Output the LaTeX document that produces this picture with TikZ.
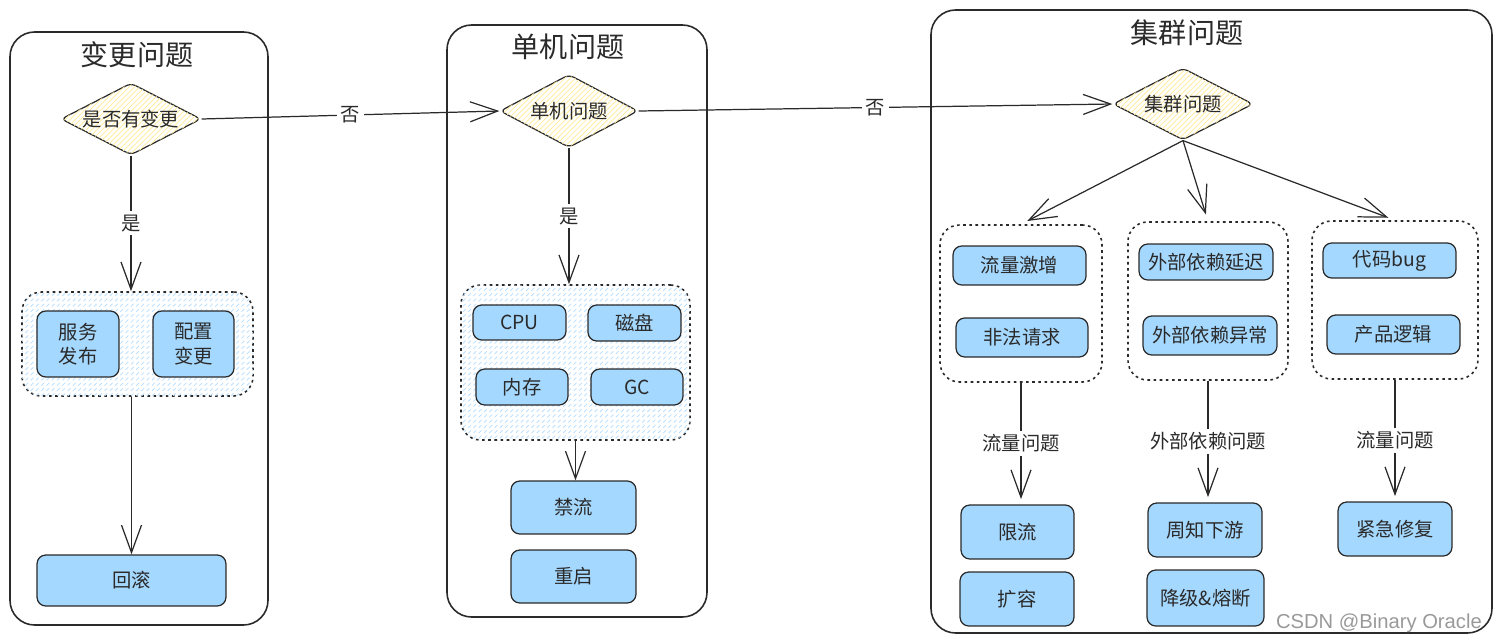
\documentclass[tikz,border=0pt]{standalone}
\usepackage{fontspec}
\newfontfamily\cjk{Noto Sans CJK SC}
\newfontfamily\wmfont{Liberation Sans}
\usetikzlibrary{%
  arrows.meta,%
  shapes.geometric,%
  patterns%
}
\definecolor{boxblue}{HTML}{A5D8FF}
\definecolor{hatchblue}{HTML}{B5DDFF}
\definecolor{hatchyellow}{HTML}{FFEC99}
\definecolor{ink}{HTML}{2A2A2A}
\tikzset{>={Straight Barb[length=5.5mm,width=4mm]},
  pane/.style={draw=ink, line width=0.9pt, rounded corners=14pt},
  title/.style={font=\cjk\fontsize{16}{18}\selectfont, text=ink},
  decision/.style={diamond, aspect=1.95, inner sep=0pt, draw=ink,
    line width=0.7pt, rounded corners=3pt, fill=white,
    postaction={pattern=north east lines, pattern color=hatchyellow},
    font=\cjk\fontsize{11}{13}\selectfont, text=ink},
  group/.style={draw=ink, line width=0.9pt, dash pattern=on 1.5pt off 2pt,
    rounded corners=11pt, inner sep=0pt},
  hatched/.style={postaction={pattern=north east lines, pattern color=hatchblue}},
  task/.style={draw=ink, line width=0.7pt, fill=boxblue, rounded corners=5pt,
    inner sep=0pt, align=center, font=\cjk\fontsize{11}{14}\selectfont, text=ink},
  flow/.style={->, draw=ink, line width=0.7pt},
  tag/.style={fill=white, inner sep=2pt, font=\cjk\fontsize{11}{13}\selectfont, text=ink}}
\begin{document}
\begin{tikzpicture}[x=0.02cm,y=-0.02cm]
  \useasboundingbox (0,0) rectangle (1502,643);
  \draw[pane] (10,32) rectangle (268,625);
  \draw[pane] (447,25) rectangle (707,617);
  \draw[pane] (931,10) rectangle (1492,633);
  \node[title] (tchange) at (137,55) {变更问题};
  \node[title] (tsingle) at (568,47) {单机问题};
  \node[title] (tcluster) at (1187,33) {集群问题};

  \node[decision, minimum width=2.8cm, minimum height=1.44cm] (qchange) at (131,119) {是否有变更};
  \node[decision, minimum width=2.76cm, minimum height=1.46cm] (qsingle) at (569,111) {单机问题};
  \node[decision, minimum width=2.8cm, minimum height=1.44cm] (qcluster) at (1183,104) {集群问题};

  \node[group, hatched, minimum width=4.62cm, minimum height=2.08cm] (gchange) at (137.5,344) {};
  \node[group, hatched, minimum width=4.58cm, minimum height=3.1cm] (gsingle) at (575.5,362.5) {};
  \node[group, minimum width=3.24cm, minimum height=3.14cm] (gtraffic) at (1021,303.5) {};
  \node[group, minimum width=3.2cm, minimum height=3.16cm] (gdepend) at (1208,301) {};
  \node[group, minimum width=3.32cm, minimum height=3.16cm] (gcode) at (1395,300) {};

  \node[task, minimum width=1.64cm, minimum height=1.32cm] (release) at (78,344) {服务\\发布};
  \node[task, minimum width=1.62cm, minimum height=1.32cm] (config) at (193.5,344) {配置\\变更};
  \node[task, minimum width=3.78cm, minimum height=1.02cm] (rollback) at (131.5,580.5) {回滚};

  \node[task, minimum width=1.86cm, minimum height=0.7cm] (cpu) at (519.5,322.5) {CPU};
  \node[task, minimum width=1.86cm, minimum height=0.72cm] (disk) at (634.5,323) {磁盘};
  \node[task, minimum width=1.84cm, minimum height=0.72cm] (mem) at (522,387) {内存};
  \node[task, minimum width=1.84cm, minimum height=0.72cm] (gc) at (637,387) {GC};
  \node[task, minimum width=2.5cm, minimum height=1.06cm] (block) at (573.5,507.5) {禁流};
  \node[task, minimum width=2.5cm, minimum height=1.06cm] (restart) at (573.5,576.5) {重启};

  \node[task, minimum width=2.66cm, minimum height=0.78cm] (surge) at (1019.5,265.5) {流量激增};
  \node[task, minimum width=2.64cm, minimum height=0.78cm] (illegal) at (1022,337.5) {非法请求};
  \node[task, minimum width=2.68cm, minimum height=0.72cm] (delay) at (1206,262) {外部依赖延迟};
  \node[task, minimum width=2.68cm, minimum height=0.78cm] (except) at (1210,335.5) {外部依赖异常};
  \node[task, minimum width=2.66cm, minimum height=0.7cm] (bug) at (1389.5,260.5) {代码bug};
  \node[task, minimum width=2.66cm, minimum height=0.78cm] (logic) at (1393.5,334.5) {产品逻辑};

  \node[task, minimum width=2.26cm, minimum height=1.08cm] (limit) at (1017.5,532) {限流};
  \node[task, minimum width=2.28cm, minimum height=1.08cm] (scale) at (1017,599) {扩容};
  \node[task, minimum width=2.28cm, minimum height=1.08cm] (notify) at (1205,530) {周知下游};
  \node[task, minimum width=2.34cm, minimum height=1.12cm] (degrade) at (1205.5,598) {降级\&熔断};
  \node[task, minimum width=2.28cm, minimum height=1.08cm] (hotfix) at (1395,529) {紧急修复};

  \draw[flow] (qchange.south) -- node[tag] {是} (qchange.south |- gchange.north);
  \draw[flow] (gchange.south -| rollback.north) -- (rollback.north);
  \draw[flow] (qchange.east) -- node[tag] {否} (qsingle.west);
  \draw[flow] (qsingle.south) -- node[tag] {是} (qsingle.south |- gsingle.north);
  \draw[flow] (gsingle.south) -- (gsingle.south |- block.north);
  \draw[flow] (qsingle.east) -- node[tag] {否} (qcluster.west);
  \draw[flow, shorten >=4pt] (qcluster.south) -- (gtraffic.north);
  \draw[flow, shorten >=4pt] (qcluster.south) -- (gdepend.north);
  \draw[flow, shorten >=4pt] (qcluster.south) -- (gcode.north);
  \draw[flow, shorten >=3pt] (gtraffic.south) -- node[tag] {流量问题} (gtraffic.south |- limit.north);
  \draw[flow, shorten >=3pt] (gdepend.south) -- node[tag] {外部依赖问题} (gdepend.south |- notify.north);
  \draw[flow, shorten >=3pt] (gcode.south) -- node[tag] {流量问题} (gcode.south |- hotfix.north);

  \node[anchor=east, text=black!40, font=\wmfont\fontsize{11.5}{13}\selectfont] (mark) at (1488,623) {CSDN @Binary Oracle};
\end{tikzpicture}
\end{document}
